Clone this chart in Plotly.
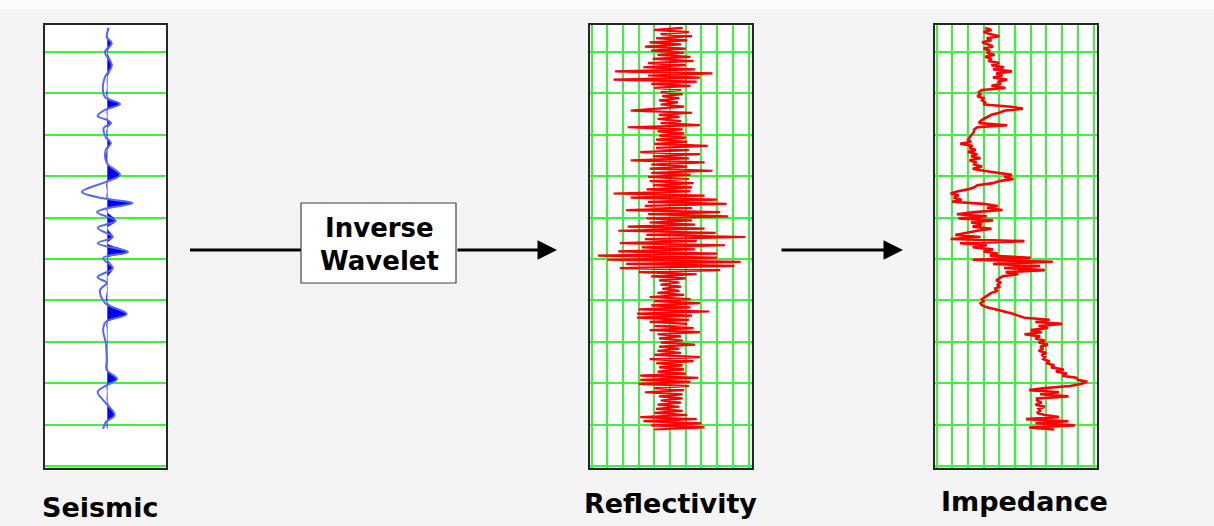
import numpy as np
import plotly.graph_objects as go

W, H = 1214, 526

# ---------------- data ----------------
# Seismic trace: key samples (time in ms, normalised amplitude)
SEIS_T = [-58, -36, -21, 0, 32, 61, 85, 109, 126, 140, 155, 164, 172, 184, 206, 220, 237,
          268, 297, 314, 338, 353, 365, 379, 387, 408, 425, 447, 462, 483, 498, 522, 544,
          558, 575, 606, 633, 652, 672, 703, 744, 768, 790, 805, 821, 846, 877, 894, 911]
SEIS_AMP = [0.025, -0.01, 0.074, -0.04, 0.074, -0.04, -0.074, -0.04, 0.21, -0.04, -0.16,
            -0.01, 0.06, -0.06, -0.025, 0.06, -0.025, -0.01, 0.21, -0.025, -0.42, -0.09,
            0.42, -0.04, -0.17, 0.14, -0.16, 0.09, -0.16, 0.34, -0.07, 0.09, -0.16, -0.01,
            -0.12, -0.04, 0.32, -0.025, -0.07, -0.025, -0.01, -0.01, 0.16, -0.01, -0.16,
            -0.04, 0.12, -0.025, -0.07]

# Reflectivity and impedance logs: regular sampling
LOG_T0 = -58   # ms, first sample
LOG_DT = 5     # ms, sample interval
REFL = [
    0.08, -0.10, 0.12, -0.06, 0.14, -0.09, 0.11, -0.13, 0.07, -0.16,
    0.10, -0.12, 0.09, -0.08, 0.13, -0.11, 0.15, -0.14, 0.10, -0.17,
    0.16, -0.35, 0.27, -0.14, 0.19, -0.36, 0.17, -0.12, 0.13, -0.10,
    0.07, -0.06, 0.08, -0.05, 0.06, -0.07, 0.05, -0.06, 0.09, -0.07,
    -0.25, 0.14, -0.07, 0.06, -0.08, 0.07, -0.06, 0.19, -0.27, 0.08,
    -0.08, 0.09, -0.07, 0.10, -0.09, 0.11, -0.10, 0.24, -0.09, 0.12,
    -0.19, 0.19, -0.11, 0.12, -0.25, 0.22, -0.12, 0.11, -0.13, 0.27,
    -0.12, 0.13, -0.14, 0.12, -0.13, 0.15, -0.11, 0.14, -0.15, 0.13,
    -0.36, 0.22, -0.25, 0.30, -0.14, 0.36, -0.16, 0.14, -0.28, 0.32,
    -0.14, 0.37, -0.15, 0.14, -0.13, 0.16, -0.27, 0.22, -0.33, 0.29,
    -0.15, 0.48, -0.16, 0.17, -0.32, 0.35, -0.18, 0.16, -0.33, 0.30,
    -0.46, 0.30, -0.40, 0.45, -0.28, 0.41, -0.32, 0.32, -0.20, 0.17,
    -0.12, 0.10, -0.07, 0.06, -0.06, 0.07, -0.05, 0.06, -0.08, 0.09,
    -0.13, 0.13, -0.10, 0.19, -0.12, 0.13, -0.20, 0.25, -0.21, 0.14,
    -0.21, 0.12, -0.13, 0.11, -0.10, 0.15, -0.13, 0.19, -0.08, 0.07,
    -0.07, 0.08, -0.06, 0.16, -0.07, 0.06, -0.08, 0.07, -0.10, 0.19,
    -0.13, 0.15, -0.09, 0.08, -0.07, 0.09, -0.08, 0.10, -0.19, 0.18,
    -0.19, 0.13, -0.20, 0.12, -0.10, 0.09, -0.16, 0.08, -0.07, 0.08,
    -0.06, 0.07, -0.08, 0.06, -0.09, 0.08, -0.10, 0.11, -0.19, 0.17,
    -0.17, 0.20, -0.12, 0.22, -0.10,
]
IMP = [
    5.1, 5.5, 5.0, 5.4, 6.0, 5.2, 5.5, 4.9, 5.3, 5.6,
    5.0, 5.4, 5.2, 5.7, 5.1, 5.5, 5.3, 6.0, 5.5, 6.3,
    5.6, 6.8, 5.8, 6.2, 5.6, 6.5, 5.9, 6.1, 5.5, 6.4,
    4.9, 4.7, 4.8, 4.6, 5.0, 4.9, 5.1, 5.0, 6.6, 7.5,
    6.3, 6.0, 5.5, 5.2, 5.0, 4.8, 4.7, 6.5, 4.6, 4.4,
    4.4, 4.3, 4.2, 4.1, 4.0, 4.2, 3.5, 4.3, 4.1, 4.5,
    4.0, 4.6, 4.2, 4.8, 4.1, 4.5, 4.4, 4.9, 4.3, 5.0,
    5.8, 6.8, 6.3, 6.9, 6.0, 5.6, 4.6, 4.4, 4.0, 3.3,
    2.9, 3.4, 3.1, 3.6, 3.0, 5.0, 5.9, 5.2, 6.2, 4.4,
    3.3, 5.2, 3.4, 5.6, 4.2, 4.9, 4.3, 5.5, 4.6, 4.0,
    3.2, 4.8, 2.9, 7.6, 3.5, 5.2, 4.3, 5.6, 5.0, 5.9,
    5.4, 8.0, 4.3, 9.4, 5.6, 8.6, 6.3, 8.9, 6.4, 7.2,
    6.2, 6.0, 5.8, 6.1, 5.9, 6.0, 5.7, 5.9, 5.5, 5.3,
    5.1, 4.9, 5.0, 4.8, 4.9, 5.2, 5.8, 6.4, 6.8, 7.2,
    7.6, 9.2, 8.3, 10.0, 8.5, 9.1, 8.0, 8.7, 7.6, 8.6,
    8.3, 8.9, 8.5, 9.1, 8.6, 8.8, 8.5, 9.0, 8.7, 8.9,
    8.8, 9.2, 9.0, 9.5, 9.3, 10.1, 9.6, 10.3, 10.0, 10.9,
    11.0, 11.6, 11.2, 10.5, 8.9, 7.9, 9.8, 8.6, 10.4, 8.4,
    8.4, 8.7, 8.3, 8.9, 8.5, 8.6, 8.4, 8.9, 9.8, 7.7,
    10.4, 8.3, 10.8, 7.9, 9.5,
]
LOG_T = [LOG_T0 + LOG_DT * i for i in range(len(REFL))]

PANEL_LABELS = ["Seismic", "Reflectivity", "Impedance"]
BOX_LABEL = ["Inverse", "Wavelet"]

# ---------------- styling ----------------
GREEN = "#3ff03f"
BORDER = "#262626"
FONT = "DejaVu Sans"


def px(x):
    return x / W


def py(y):
    return 1 - y / H


fig = go.Figure()

# Seismic: positive lobes filled
seis_pos = np.clip(np.array(SEIS_AMP), 0, None)
fig.add_trace(go.Scatter(x=seis_pos, y=SEIS_T, mode="lines", fill="tozerox",
                         fillcolor="#0000f0", line=dict(color="#0000f0", width=0.5, shape="spline"),
                         xaxis="x", yaxis="y", hoverinfo="skip"))
fig.add_trace(go.Scatter(x=SEIS_AMP, y=SEIS_T, mode="lines",
                         line=dict(color="#5566ff", width=2, shape="spline"),
                         xaxis="x", yaxis="y"))
# Reflectivity
fig.add_trace(go.Scatter(x=REFL, y=LOG_T, mode="lines",
                         line=dict(color="#ff0000", width=2.2),
                         xaxis="x2", yaxis="y2"))
# Impedance
fig.add_trace(go.Scatter(x=IMP, y=LOG_T, mode="lines",
                         line=dict(color="#ff0000", width=2.6),
                         xaxis="x3", yaxis="y3"))

ydom = [py(468), py(25)]
yaxis_common = dict(domain=ydom, range=[1005, -65], tick0=0, dtick=100,
                    showgrid=True, gridcolor=GREEN, gridwidth=1.5,
                    showticklabels=False, ticks="", zeroline=False,
                    showline=True, mirror=True, linecolor=BORDER, linewidth=1.5,
                    fixedrange=True)
xaxis_common = dict(showticklabels=False, ticks="", zeroline=False,
                    showline=True, mirror=True, linecolor=BORDER, linewidth=1.5,
                    fixedrange=True)

fig.update_layout(
    width=W, height=H,
    margin=dict(l=0, r=0, t=0, b=0),
    paper_bgcolor="#f4f4f4",
    plot_bgcolor="white",
    showlegend=False,
    xaxis=dict(domain=[px(45), px(166)], range=[-1.03, 0.97], showgrid=False,
               anchor="y", **xaxis_common),
    yaxis=dict(anchor="x", **yaxis_common),
    xaxis2=dict(domain=[px(590), px(752)], range=[-0.51, 0.522], tick0=0, dtick=0.1,
                showgrid=True, gridcolor=GREEN, gridwidth=1.5, anchor="y2", **xaxis_common),
    yaxis2=dict(anchor="x2", **yaxis_common),
    xaxis3=dict(domain=[px(935), px(1097)], range=[1.904, 12.22], tick0=0, dtick=1,
                showgrid=True, gridcolor=GREEN, gridwidth=1.5, anchor="y3", **xaxis_common),
    yaxis3=dict(anchor="x3", **yaxis_common),
)

shapes = [
    # light band at top of slide
    dict(type="rect", xref="paper", yref="paper", x0=0, x1=1, y0=py(9), y1=1,
         fillcolor="#fbfbfb", line=dict(width=0), layer="below"),
    # emphasised centre line in impedance panel
    dict(type="line", xref="x3", yref="y3 domain", x0=7, x1=7, y0=0, y1=0.99,
         line=dict(color=GREEN, width=2.5), layer="below"),
    # arrow tail before the box
    dict(type="line", xref="paper", yref="paper", x0=px(190), x1=px(301), y0=py(250), y1=py(250),
         line=dict(color="black", width=3)),
    # inverse wavelet box
    dict(type="rect", xref="paper", yref="paper", x0=px(301), x1=px(456), y0=py(283), y1=py(203),
         fillcolor="white", line=dict(color="#444444", width=1.2)),
]
fig.update_layout(shapes=shapes)

txt = dict(xref="paper", yref="paper", showarrow=False, xanchor="center", yanchor="middle")
annotations = [
    dict(x=px(557), y=py(250), ax=-101, ay=0, xref="paper", yref="paper", axref="pixel", ayref="pixel",
         showarrow=True, arrowhead=2, arrowsize=1.3, arrowwidth=3, arrowcolor="black", text=""),
    dict(x=px(903), y=py(250), ax=-123, ay=0, xref="paper", yref="paper", axref="pixel", ayref="pixel",
         showarrow=True, arrowhead=2, arrowsize=1.3, arrowwidth=3, arrowcolor="black", text=""),
    dict(x=px(379), y=py(228), text="<b>" + BOX_LABEL[0] + "</b>",
         font=dict(family=FONT, size=26, color="black"), **txt),
    dict(x=px(379), y=py(261), text="<b>" + BOX_LABEL[1] + "</b>",
         font=dict(family=FONT, size=26, color="black"), **txt),
    dict(x=px(100), y=py(507), text="<b>" + PANEL_LABELS[0] + "</b>",
         font=dict(family=FONT, size=27, color="black"), **txt),
    dict(x=px(670), y=py(503), text="<b>" + PANEL_LABELS[1] + "</b>",
         font=dict(family=FONT, size=27, color="black"), **txt),
    dict(x=px(1024), y=py(501), text="<b>" + PANEL_LABELS[2] + "</b>",
         font=dict(family=FONT, size=27, color="black"), **txt),
]
fig.update_layout(annotations=annotations)

fig.write_html("out.html")
